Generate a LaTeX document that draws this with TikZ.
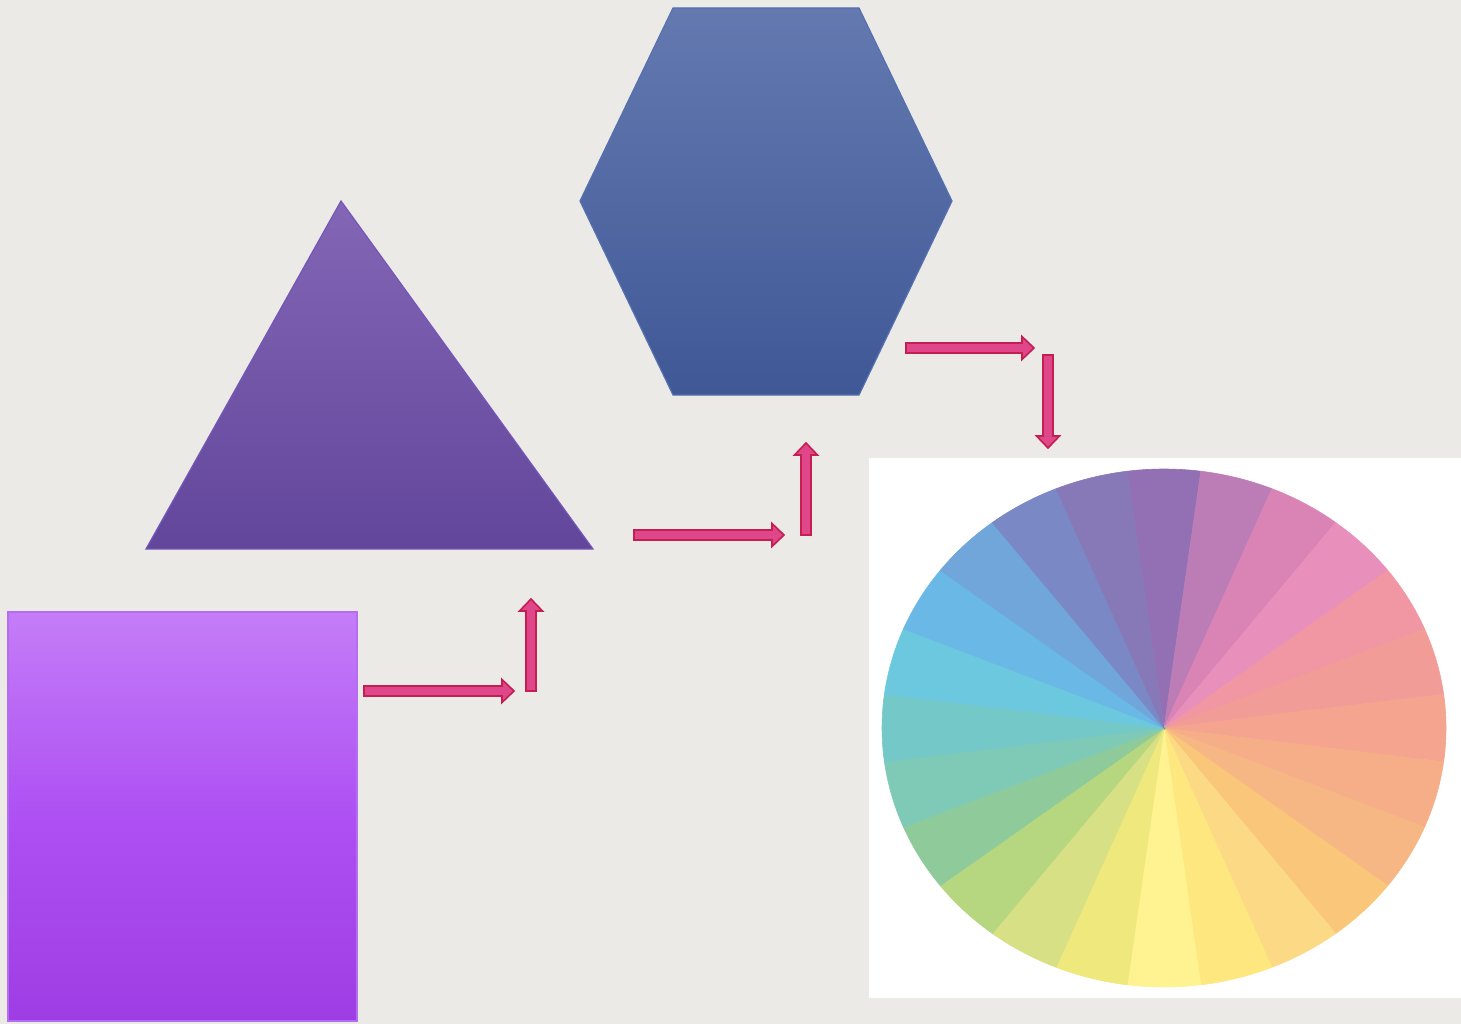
\documentclass[tikz,border=0pt]{standalone}
\usepackage{xcolor}
\usepackage{tikz}
\usetikzlibrary{calc}
\definecolor{bgcol}{HTML}{EBEAE6}
\definecolor{arrfill}{HTML}{E0468A}
\definecolor{arredge}{HTML}{C31F50}
\definecolor{sqtop}{HTML}{C47DF7}
\definecolor{sqmid}{HTML}{AE50F3}
\definecolor{sqbot}{HTML}{9E3DE3}
\definecolor{sqedge}{HTML}{B46CF0}
\definecolor{tritop}{HTML}{8366B5}
\definecolor{tribot}{HTML}{62469B}
\definecolor{triedge}{HTML}{7457B8}
\definecolor{hextop}{HTML}{6479B0}
\definecolor{hexbot}{HTML}{3F5896}
\definecolor{hexedge}{HTML}{5670B0}
% block arrow: name, start, length, angle
\newcommand{\blockarrow}[4]{%
  \coordinate (#1) at #2;
  \draw[blockarr, shift={(#1)}, rotate=#4]
    (0,-5) -- ({#3-12},-5) -- ({#3-12},-11.5) -- (#3,0)
    -- ({#3-12},11.5) -- ({#3-12},5) -- (0,5) -- cycle;}

\begin{document}
\begin{tikzpicture}[x=1pt, y=-1pt,
  figure/.style={line width=1.2pt, line join=miter},
  blockarr/.style={fill=arrfill, draw=arredge, line width=1.6pt,
                   line join=miter},
  wedgefill/.style={fill=wedge, draw=wedge, line width=0.6pt}]
\fill[bgcol] (0,0) rectangle (1461,1024);
\useasboundingbox (0,0) rectangle (1461,1024);

% square
\draw[figure, draw=sqedge, top color=sqtop, bottom color=sqbot,
      middle color=sqmid] (8,612) rectangle (357,1021);

% triangle
\coordinate (tri1) at (341,201);
\coordinate (tri2) at (593,549);
\coordinate (tri3) at (146,549);
\draw[figure, draw=triedge, top color=tritop, bottom color=tribot]
  (tri1) -- (tri2) -- (tri3) -- cycle;

% hexagon
\draw[figure, draw=hexedge, top color=hextop, bottom color=hexbot]
  (673,8) -- (859,8) -- (952,201) -- (859,395) -- (673,395)
  -- (580,201) -- cycle;

% colour wheel
\fill[white] (869,458) rectangle (1461,998);
\coordinate (wc) at (1164,728);
\foreach \c [count=\i from 0] in {9370B4,BC7DB7,D984B5,E890BB,F097A3,
    F29C98,F4A48F,F6AE88,F7B784,FAC679,FCD985,FDE77E,FFF391,EFE87C,
    D8E086,B6D77F,8FCB9A,7FCAB6,74C9C8,6BC8DE,69B8E6,70A6DA,7A88C6,
    8779B8}{
  \definecolor{wedge}{HTML}{\c}
  \pgfmathsetmacro{\aa}{262.5+15*\i}
  \pgfmathsetmacro{\ab}{277.5+15*\i}
  \fill[wedgefill] (wc) -- ++(\aa:282 and 259)
    arc[start angle=\aa, end angle=\ab, x radius=282, y radius=259]
    -- cycle;
}

% arrows
\blockarrow{a1}{(364,691)}{150}{0}
\blockarrow{a2}{(531,691)}{92}{90}
\blockarrow{a3}{(634,535)}{150}{0}
\blockarrow{a4}{(806,535)}{92}{90}
\blockarrow{a5}{(906,348)}{128}{0}
\blockarrow{a6}{(1048,355)}{93}{-90}
\end{tikzpicture}
\end{document}
